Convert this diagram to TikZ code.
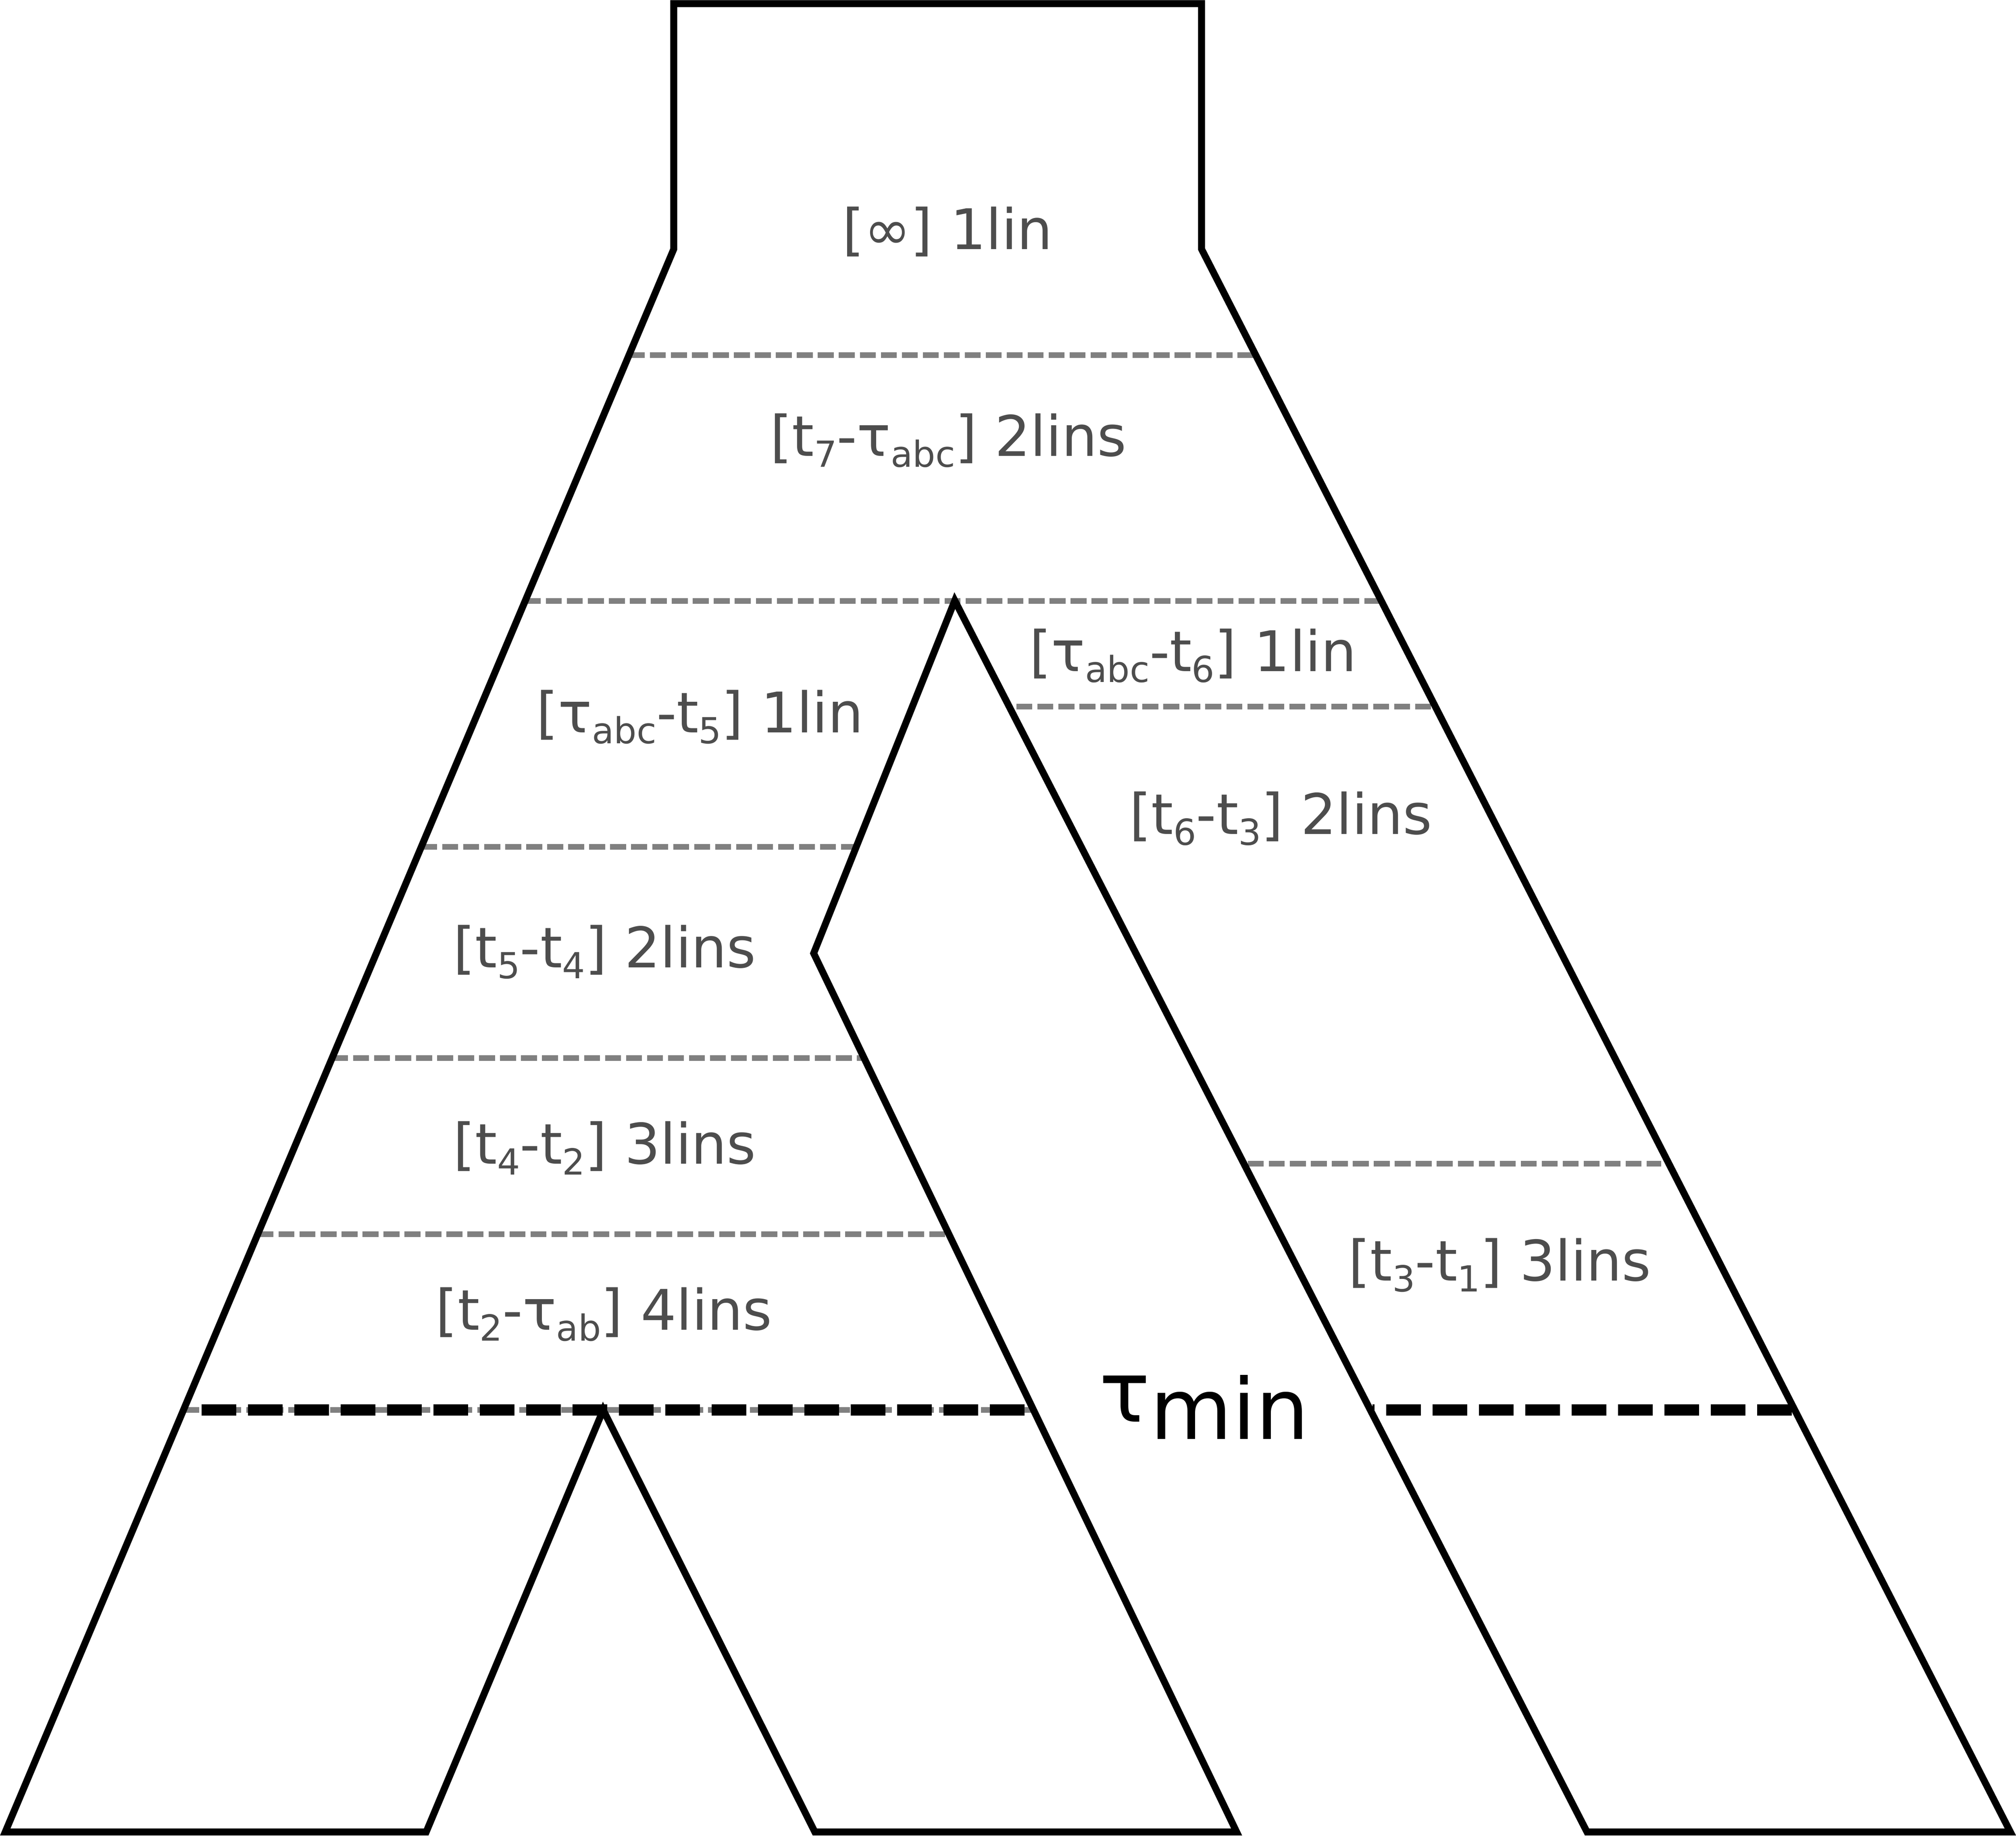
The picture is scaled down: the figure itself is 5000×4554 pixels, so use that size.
\documentclass[tikz,border=0pt]{standalone}
\usepackage{fontspec}
\setmainfont{DejaVu Sans}
\definecolor{lvlgray}{RGB}{128,128,128}
\definecolor{labgray}{RGB}{77,77,77}
\newcommand{\idx}[1]{\raisebox{-7.7pt}{\fontsize{25.3pt}{30pt}\selectfont #1}}
\tikzset{
    outline/.style={draw=black, line width=4.9pt, line join=miter}, % population borders
    level/.style={draw=lvlgray, line width=3.9pt, dash pattern=on 11.2pt off 3.6pt},
    cutoff/.style={draw=black, line width=8pt, dash pattern=on 24.5pt off 8.2pt},
    lab/.style={anchor=base, inner sep=0pt, text=labgray, font=\fontsize{39.5pt}{47pt}\selectfont},
    biglab/.style={anchor=base, inner sep=0pt, text=black, font=\fontsize{59.5pt}{70pt}\selectfont},
}

\begin{document}
\begin{tikzpicture}[x=0.01cm, y=-0.01cm]
    \useasboundingbox (0,0) rectangle (5000,4554);

    % corners of the tree
    \coordinate (tl) at (1671,9);
    \coordinate (tr) at (2980,9);
    \coordinate (sr) at (2980,618);
    \coordinate (br) at (4986,4545);
    \coordinate (bri) at (3936,4545);
    \coordinate (apex) at (2368,1490);
    \coordinate (notch) at (2018,2365);
    \coordinate (bmr) at (3067,4545);
    \coordinate (bml) at (2021,4545);
    \coordinate (apexab) at (1496,3498);
    \coordinate (blr) at (1057,4545);
    \coordinate (bl) at (13,4545);
    \coordinate (sl) at (1671,618);

    % time levels
    \foreach \ya/\xa/\xb in {881/1560/3114, 1491/1302/3426, 1753/2521/3560,
                             2101/1045/2124, 2625/824/2143, 2887/3095/4120,
                             3062/639/2353, 3498/455/2563}
        \draw[level] (\xa,\ya) -- (\xb,\ya);

    \draw[cutoff] (500,3498) -- (2543,3498);
    \draw[cutoff, dash phase=23pt] (3404,3498) -- (4451,3498);

    \draw[outline] (tl) -- (tr) -- (sr) -- (br) -- (bri) -- (apex) -- (notch)
        -- (bmr) -- (bml) -- (apexab) -- (blr) -- (bl) -- (sl) -- cycle;

    \node[lab] (inf) at (2350,618) {[∞] 1lin};
    \node[lab] (t7abc) at (2352,1131) {[t\idx{7}-τ\idx{abc}] 2lins};
    \node[lab] (abct6) at (2959,1665) {[τ\idx{abc}-t\idx{6}] 1lin};
    \node[lab] (t6t3) at (3177,2069) {[t\idx{6}-t\idx{3}] 2lins};
    \node[lab] (abct5) at (1736,1817) {[τ\idx{abc}-t\idx{5}] 1lin};
    \node[lab] (t5t4) at (1500,2400) {[t\idx{5}-t\idx{4}] 2lins};
    \node[lab] (t4t2) at (1500,2887) {[t\idx{4}-t\idx{2}] 3lins};
    \node[lab] (t3t1) at (3720,3177) {[t\idx{3}-t\idx{1}] 3lins};
    \node[lab] (t2ab) at (1498,3299) {[t\idx{2}-τ\idx{ab}] 4lins};
    \node[biglab] (tmin) at (2987,3570) {\raisebox{12pt}{τ}min};
\end{tikzpicture}
\end{document}
